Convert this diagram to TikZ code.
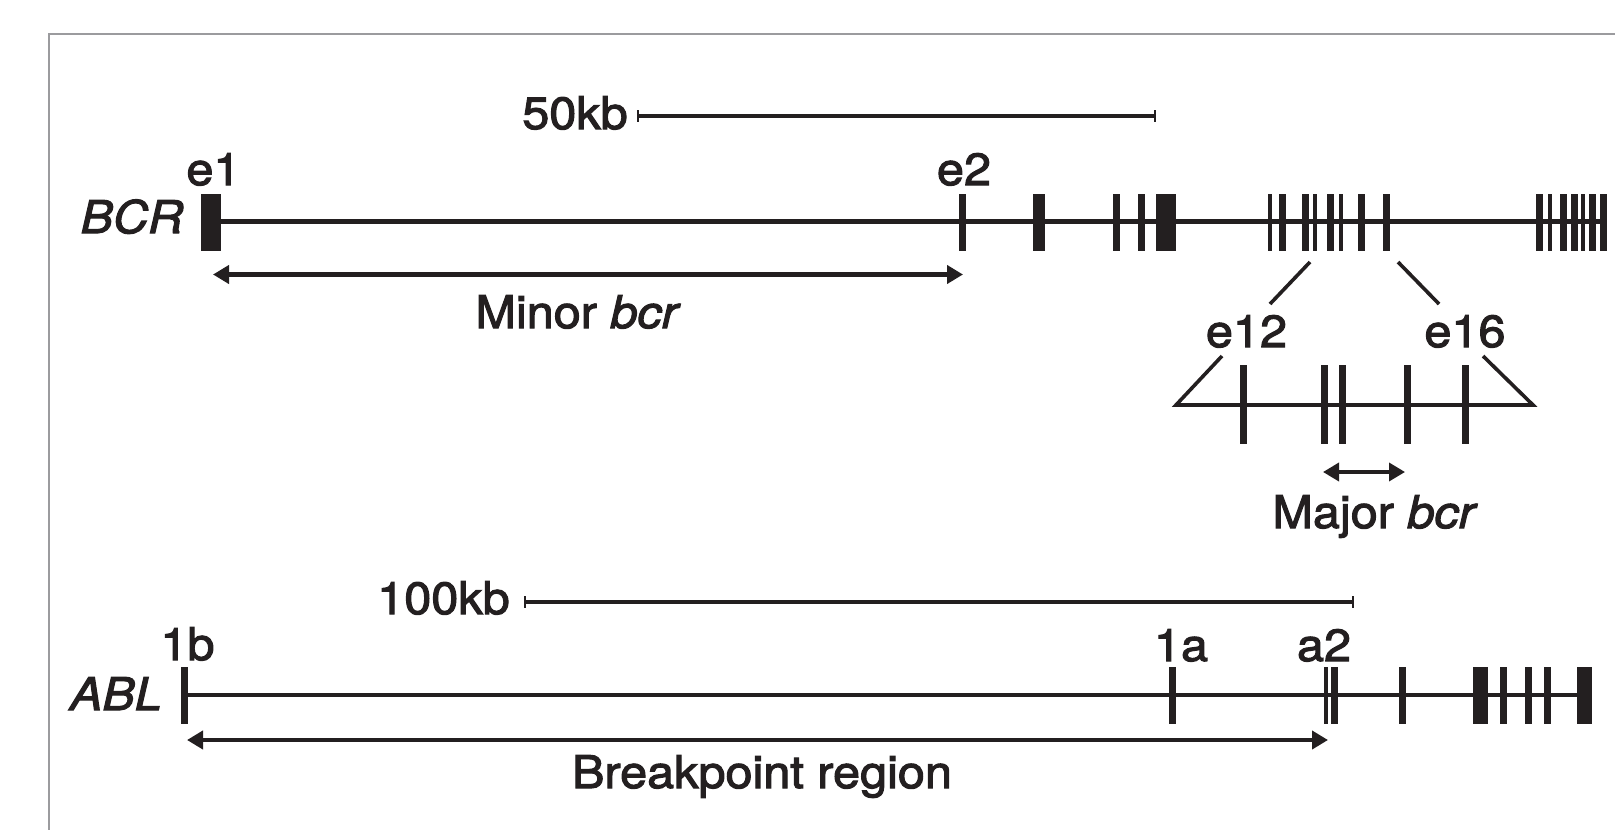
\documentclass[tikz,border=0pt]{standalone}
\usepackage{fontspec}
\setmainfont[FakeStretch=1.08,FakeBold=2.4]{TeX Gyre Heros}
\usetikzlibrary{arrows.meta}
\definecolor{ink}{RGB}{35,31,32}
\definecolor{framegrey}{RGB}{155,155,158}
\newcommand\exonbar[4]{\fill[ink] (#1-#3/2,#2-28.5) rectangle (#1+#3/2,#2+28.5);}
\newcommand\exonbox[3]{\fill[ink] (#1,#3-28.5) rectangle (#2,#3+28.5);}
\begin{document}
\begin{tikzpicture}[x=1pt,y=-1pt,
  gene/.style={line width=4.2pt, draw=ink},
  scalebar/.style={line width=4pt, draw=ink},
  endbar/.style={line width=1.6pt, draw=ink},
  dim/.style={line width=4.2pt, draw=ink, {Triangle[length=16pt,width=18pt]}-{Triangle[length=16pt,width=18pt]}},
  lab/.style={font=\fontsize{45}{50}\selectfont, text=ink, inner sep=0pt, anchor=base},
  frameline/.style={line width=2pt, draw=framegrey}
]
\useasboundingbox (0,0) rectangle (1615,830);
\draw[frameline] (49,830) -- (49,34) -- (1615,34);

% ---------- BCR ----------
\node[lab] (s50) at (575,129) {50kb};
\coordinate (s50a) at (638,116);
\coordinate (s50b) at (1155,116);
\draw[scalebar] (s50a) -- (s50b);
\draw[endbar] (638,110) -- (638,122);
\draw[endbar] (1155,110) -- (1155,122);

\coordinate (bcrL) at (211,221.5);
\coordinate (bcrR) at (1607,221.5);
\draw[gene] (bcrL) -- (bcrR);
\node[lab] (bcr) at (132,233) {\itshape BCR};
\node[lab] (e1) at (213.5,185) {e1};
\node[lab] (e2) at (964,185) {e2};
\exonbox{201}{221}{222.5}
\exonbox{1033}{1045}{222.5}
\exonbox{1156}{1176}{222.5}
\foreach \x/\w in {962.5/7,1116/7,1141.5/7,1270/4,1282.5/7,1305.5/7,1315/4,1330.5/7,1341/4,1361.5/7,1386.5/7,1539.5/7,1549.5/4,1563/7,1574/7,1583/4,1592.5/7,1603.5/7}
  {\exonbar{\x}{222.5}{\w}{}}

\coordinate (minL) at (213,274.5);
\coordinate (minR) at (963,274.5);
\draw[dim] (minL) -- (minR);
\node[lab] (minor) at (578,328) {Minor \textit{bcr}};

% expansion
\coordinate (u1a) at (1310,262); \coordinate (u1b) at (1270,304);
\coordinate (u2a) at (1398,262); \coordinate (u2b) at (1439,304);
\draw[gene,line width=3.6pt] (u1a) -- (u1b);
\draw[gene,line width=3.6pt] (u2a) -- (u2b);
\node[lab] (e12) at (1246.5,347) {e12};
\node[lab] (e16) at (1465,347) {e16};
\coordinate (zl) at (1176,405); \coordinate (zr) at (1533,405);
\draw[gene,line width=3.6pt,line join=miter] (1222,356) -- (zl) -- (zr) -- (1483,356);
\foreach \x in {1243,1324,1342,1407,1465}
  {\fill[ink] (\x-3.5,365) rectangle (\x+3.5,444);}
\coordinate (majL) at (1323,472);
\coordinate (majR) at (1405,472);
\draw[dim,line width=3.6pt] (majL) -- (majR);
\node[lab] (major) at (1375,528) {Major \textit{bcr}};

% ---------- ABL ----------
\node[lab] (s100) at (443.5,614) {100kb};
\coordinate (s100a) at (525,602);
\coordinate (s100b) at (1353,602);
\draw[scalebar] (s100a) -- (s100b);
\draw[endbar] (525,596) -- (525,608);
\draw[endbar] (1353,596) -- (1353,608);

\coordinate (ablL) at (184,695);
\coordinate (ablR) at (1592,695);
\draw[gene] (ablL) -- (ablR);
\node[lab] (abl) at (116,710) {\itshape ABL};
\node[lab] (l1b) at (187.5,660) {1b};
\node[lab] (l1a) at (1181,661) {1a};
\node[lab] (la2) at (1324,661) {a2};
\exonbox{1473}{1488}{695}
\exonbox{1577}{1592}{695}
\foreach \x/\w in {184.5/7,1172/7,1326/4,1334.5/7,1402.5/7,1503/7,1528/7,1547/7}
  {\exonbar{\x}{695}{\w}{}}

\coordinate (bpL) at (187,740);
\coordinate (bpR) at (1328,740);
\draw[dim] (bpL) -- (bpR);
\node[lab] (bp) at (762,788) {Breakpoint region};
\end{tikzpicture}
\end{document}
